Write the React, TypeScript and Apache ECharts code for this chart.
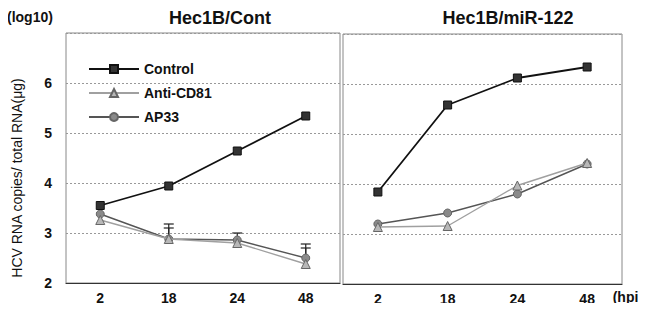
import React, { useEffect, useRef } from "react";
import * as echarts from "echarts";

const categories = ["2", "18", "24", "48"];
const panelTitles = ["Hec1B/Cont", "Hec1B/miR-122"];
const seriesNames = ["Control", "Anti-CD81", "AP33"];

// Hec1B/Cont
const contControl = [3.55, 3.94, 4.64, 5.34];
const contAnti = [3.26, 2.88, 2.8, 2.38];
const contAP33 = [3.38, 2.88, 2.86, 2.5];
// error bars [categoryIndex, low, high]
const contErrors = [
  [1, 2.88, 3.18],
  [1, 2.88, 3.1],
  [2, 2.86, 3.0],
  [3, 2.5, 2.78],
  [3, 2.5, 2.7],
];

// Hec1B/miR-122
const mirControl = [3.84, 5.58, 6.12, 6.34];
const mirAnti = [3.14, 3.16, 3.97, 4.42];
const mirAP33 = [3.2, 3.42, 3.8, 4.4];

const colors = ["#111111", "#a0a0a0", "#555555"];
const symbols = ["rect", "triangle", "circle"];
const fills = ["#333333", "#b8b8b8", "#8a8a8a"];

export default function App() {
  const ref = useRef<HTMLDivElement>(null);
  useEffect(() => {
    if (!ref.current) return;
    const chart = echarts.init(ref.current, null, { renderer: "svg" });
    const font = "Liberation Sans, Arial, sans-serif";
    const mkLine = (name: string, idx: number, data: number[], axis: number) => ({
      type: "line",
      name,
      xAxisIndex: axis,
      yAxisIndex: axis,
      data,
      symbol: symbols[idx],
      symbolSize: idx === 1 ? 9 : 8,
      lineStyle: { color: colors[idx], width: idx === 0 ? 1.8 : 1.4 },
      itemStyle: { color: fills[idx], borderColor: idx === 0 ? "#111" : "#666", borderWidth: 1 },
      z: 3 - idx,
    });
    const errorSeries = {
      type: "custom",
      xAxisIndex: 0,
      yAxisIndex: 0,
      data: contErrors,
      silent: true,
      z: 1,
      renderItem: (params: any, api: any) => {
        const x = api.value(0);
        const lo = api.coord([x, api.value(1)]);
        const hi = api.coord([x, api.value(2)]);
        return {
          type: "group",
          children: [
            { type: "line", shape: { x1: lo[0], y1: lo[1], x2: hi[0], y2: hi[1] }, style: { stroke: "#222", lineWidth: 1.2 } },
            { type: "line", shape: { x1: hi[0] - 5, y1: hi[1], x2: hi[0] + 5, y2: hi[1] }, style: { stroke: "#222", lineWidth: 1.2 } },
          ],
        };
      },
    };
    const yAxisBase = {
      type: "value",
      min: 2,
      max: 7,
      interval: 1,
      splitLine: { show: true, lineStyle: { color: "#999", type: [2, 2], width: 1 } },
      axisLine: { show: false },
      axisTick: { show: false },
    };
    const xAxisBase = {
      type: "category",
      data: categories,
      boundaryGap: true,
      axisLine: { show: true, lineStyle: { color: "#333", width: 1.2 } },
      axisTick: { show: false },
      axisLabel: { color: "#111", fontSize: 14, fontWeight: "bold", fontFamily: font, margin: 8 },
    };
    const titleStyle = { fontSize: 18, fontWeight: "bold", color: "#111", fontFamily: font };
    chart.setOption({
      animation: false,
      backgroundColor: "#ffffff",
      title: [
        { text: panelTitles[0], left: 215, top: 4, textAlign: "center", textStyle: titleStyle },
        { text: panelTitles[1], left: 503, top: 4, textAlign: "center", textStyle: titleStyle },
      ],
      legend: {
        data: seriesNames,
        orient: "vertical",
        left: 88,
        top: 62,
        padding: 0,
        itemWidth: 50,
        itemHeight: 10,
        itemGap: 10,
        textStyle: { fontSize: 14, fontWeight: "bold", color: "#111", fontFamily: font },
      },
      grid: [
        { left: 66, top: 33, width: 274, height: 250, show: true, borderColor: "#888", borderWidth: 1, backgroundColor: "transparent" },
        { left: 343, top: 34, width: 279, height: 250, show: true, borderColor: "#888", borderWidth: 1, backgroundColor: "transparent" },
      ],
      xAxis: [
        { ...xAxisBase, gridIndex: 0 },
        { ...xAxisBase, gridIndex: 1 },
      ],
      yAxis: [
        {
          ...yAxisBase,
          gridIndex: 0,
          axisLabel: {
            color: "#111",
            fontSize: 14,
            fontWeight: "bold",
            fontFamily: font,
            margin: 14,
            formatter: (v: number) => (v === 7 ? "" : String(v)),
          },
        },
        { ...yAxisBase, gridIndex: 1, axisLabel: { show: false } },
      ],
      graphic: [
        { type: "text", left: 7, top: 10, style: { text: "(log10)", fontSize: 14, fontWeight: "bold", fill: "#111", fontFamily: font } },
        {
          type: "text",
          x: 643,
          y: 297,
          style: { text: "(hpi)", fontSize: 14, fontWeight: "bold", fill: "#111", fontFamily: font, align: "right", verticalAlign: "middle" },
        },
        {
          type: "text",
          x: 17,
          y: 178,
          rotation: Math.PI / 2,
          style: { text: "HCV RNA copies/ total RNA(μg)", fontSize: 14, fill: "#111", fontFamily: font, align: "center", verticalAlign: "middle" },
        },
      ],
      series: [
        errorSeries,
        mkLine(seriesNames[0], 0, contControl, 0),
        mkLine(seriesNames[1], 1, contAnti, 0),
        mkLine(seriesNames[2], 2, contAP33, 0),
        mkLine(seriesNames[0], 0, mirControl, 1),
        mkLine(seriesNames[1], 1, mirAnti, 1),
        mkLine(seriesNames[2], 2, mirAP33, 1),
      ],
    });
    return () => chart.dispose();
  }, []);
  return <div ref={ref} style={{ width: 646, height: 311, margin: -8 }} />;
}
